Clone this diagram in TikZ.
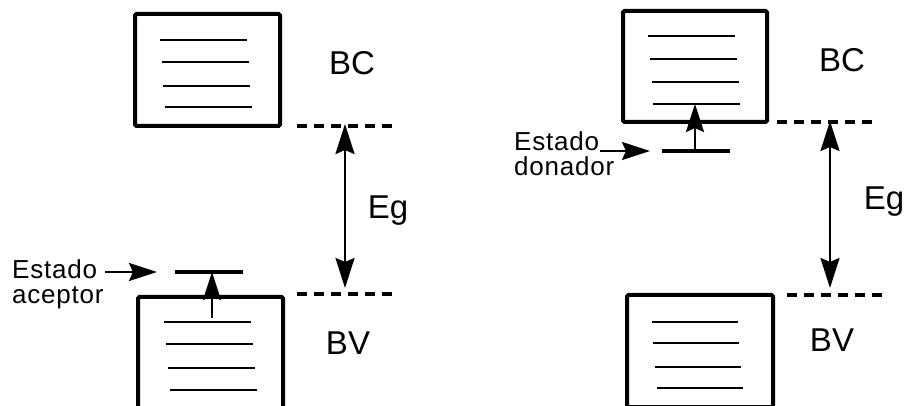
\documentclass[tikz,border=0pt]{standalone}
\usepackage{fontspec}
\setmainfont{Liberation Sans}
\usetikzlibrary{arrows.meta, positioning, calc}
\tikzset{
  band/.style={draw=black, line width=4pt, rounded corners=1.5pt, minimum width=145pt, minimum height=112pt, inner sep=0pt},
  sub/.style={draw=black, line width=2.5pt},
  level/.style={draw=black, line width=3.5pt, dash pattern=on 10pt off 7pt},
  imp/.style={draw=black, line width=4pt},
  gap/.style={draw=black, line width=2.5pt, {Stealth[length=30pt, width=19pt, inset=4pt]}-{Stealth[length=30pt, width=19pt, inset=4pt]}},
  arrow/.style={draw=black, line width=2.5pt, -{Stealth[length=28pt, width=18pt, inset=4pt]}},
  big/.style={font=\fontsize{33}{36}\selectfont},
  small/.style={font=\fontsize{26}{25}\selectfont\addfontfeature{LetterSpace=3}, align=left, inner sep=0pt}
}

\begin{document}
\begin{tikzpicture}[x=1pt, y=-1pt]
  \useasboundingbox (0,0) rectangle (906,406);

  % Semiconductor tipo p (izquierda)
  \node [band] (bcA) at (207.5, 70) {};
  \foreach \y/\d in {40/0, 62/2, 86/3, 107/5}
    \draw [sub] ({160+\d}, \y) -- ({247+\d}, \y);
  \node [big] (bcAlbl) at (352, 63) {BC};
  \coordinate (cbAL) at (297, 126);
  \coordinate (cbAR) at (397, 126);
  \draw [level] (cbAL) -- (cbAR);

  \coordinate (egAtop) at (345, 124);
  \coordinate (egAbot) at (345, 288);
  \draw [gap] (egAtop) -- (egAbot);
  \node [big] (egA) at (388, 211) {Eg};

  \coordinate (vbAL) at (297, 294);
  \coordinate (vbAR) at (395, 294);
  \draw [level] (vbAL) -- (vbAR);
  \node [band] (bvA) at (210.5, 353) {};
  \foreach \y/\d in {322/0, 344/2, 368/4, 390/6}
    \draw [sub] ({164+\d}, \y) -- ({251+\d}, \y);
  \node [big] (bvAlbl) at (348, 343) {BV};

  \coordinate (accL) at (175, 272);
  \coordinate (accR) at (243, 272);
  \draw [imp] (accL) -- (accR);
  \coordinate (accSrc) at (212, 318);
  \coordinate (accDst) at (212, 272);
  \draw [arrow] (accSrc) -- (accDst);
  \node [small, anchor=west] (accTxt) at (12, 284) {Estado\\aceptor};
  \coordinate (accFrom) at (105, 272);
  \coordinate (accTo) at (157, 272);
  \draw [arrow] (accFrom) -- (accTo);

  % Semiconductor tipo n (derecha)
  \node [band, minimum width=144pt, minimum height=111pt] (bcB) at (695, 66.5) {};
  \foreach \y/\d in {36/0, 59/2, 82/4, 104/5}
    \draw [sub] ({648+\d}, \y) -- ({735+\d}, \y);
  \node [big] (bcBlbl) at (842, 60) {BC};
  \coordinate (cbBL) at (777, 122);
  \coordinate (cbBR) at (878, 122);
  \draw [level] (cbBL) -- (cbBR);

  \coordinate (egBtop) at (830, 121);
  \coordinate (egBbot) at (830, 288);
  \draw [gap] (egBtop) -- (egBbot);
  \node [big] (egB) at (884, 202) {Eg};

  \coordinate (vbBL) at (787, 295);
  \coordinate (vbBR) at (887, 295);
  \draw [level] (vbBL) -- (vbBR);
  \node [band, minimum width=146pt] (bvB) at (700, 351) {};
  \foreach \y/\d in {322/0, 343/1, 367/3, 388/5}
    \draw [sub] ({652+\d}, \y) -- ({738+\d}, \y);
  \node [big] (bvBlbl) at (832, 340) {BV};

  \coordinate (donL) at (662, 151);
  \coordinate (donR) at (730, 151);
  \draw [imp] (donL) -- (donR);
  \coordinate (donSrc) at (695, 151);
  \coordinate (donDst) at (695, 104);
  \draw [arrow] (donSrc) -- (donDst);
  \node [small, anchor=west] (donTxt) at (514, 154) {Estado\\donador};
  \coordinate (donFrom) at (600, 151);
  \coordinate (donTo) at (650, 151);
  \draw [arrow] (donFrom) -- (donTo);
\end{tikzpicture}
\end{document}
